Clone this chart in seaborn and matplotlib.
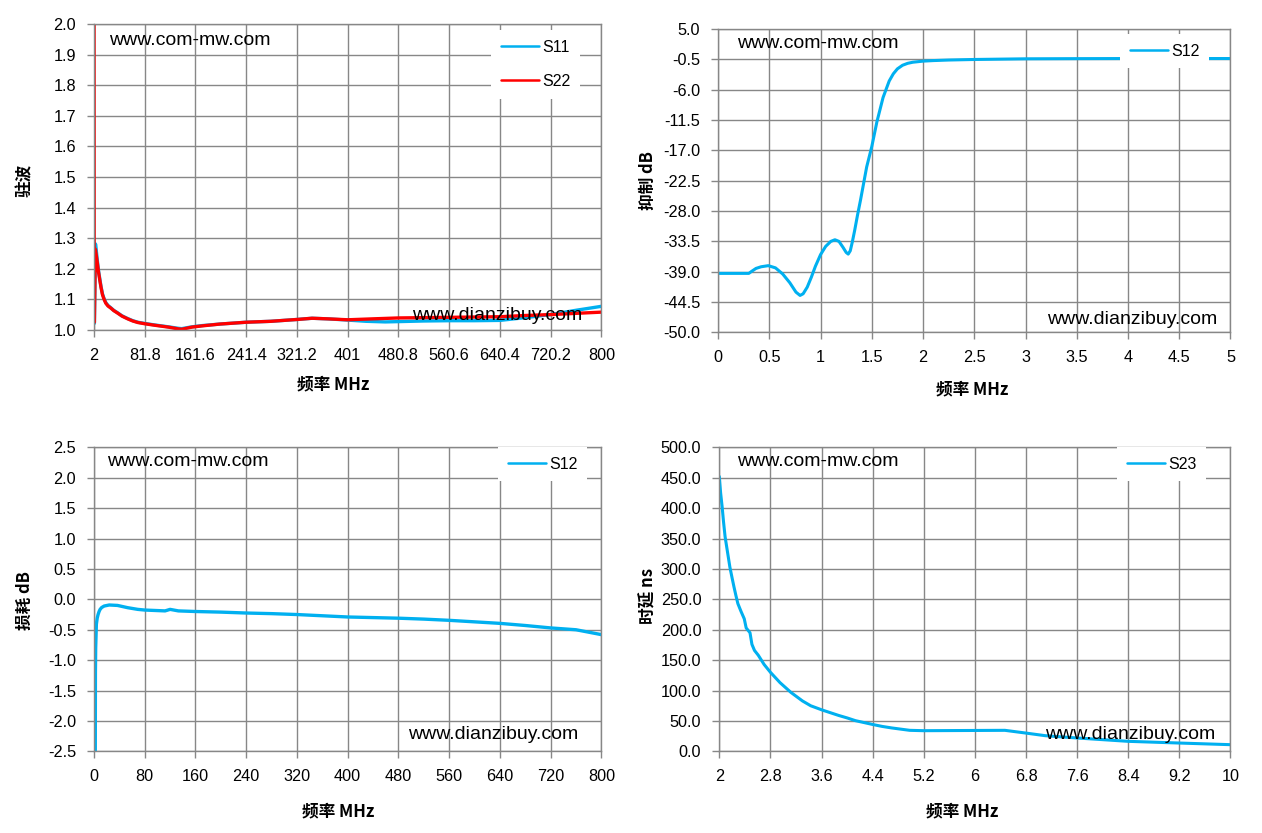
import matplotlib
matplotlib.use('Agg')
import matplotlib.pyplot as plt
import seaborn as sns

# ---- VSWR (top left) ----
s11_freq = [2, 2.6, 4.3, 5.8, 7.3, 9, 11, 13, 15.3, 18, 20.6, 24, 28.6, 33, 39, 46, 55, 63, 71,
            81.8, 97.8, 119, 135, 140, 156, 172, 200, 241.4, 280, 321.2, 345, 370, 401, 430,
            460, 480.8, 520, 560.6, 600, 640.4, 680, 720.2, 760, 800]
s11_vswr = [1.02, 1.022, 1.281, 1.255, 1.225, 1.195, 1.168, 1.142, 1.118, 1.101, 1.089, 1.080,
            1.072, 1.064, 1.056, 1.046, 1.037, 1.030, 1.025, 1.021, 1.016, 1.010, 1.005, 1.004,
            1.010, 1.014, 1.019, 1.025, 1.028, 1.034, 1.038, 1.036, 1.032, 1.028, 1.026, 1.027,
            1.029, 1.030, 1.030, 1.031, 1.040, 1.050, 1.064, 1.077]
s22_freq = [2, 2.3, 2.6, 4.1, 5.7, 7.3, 9, 11, 13, 15.3, 18, 20.6, 24, 28.6, 33, 39, 46, 55, 63,
            71, 81.8, 97.8, 119, 135, 140, 156, 172, 200, 241.4, 280, 321.2, 345, 370, 401, 440,
            480.8, 520, 560.6, 600, 640.4, 680, 720.2, 760, 800]
s22_vswr = [2.3, 1.03, 1.025, 1.264, 1.242, 1.218, 1.190, 1.164, 1.139, 1.115, 1.099, 1.087,
            1.078, 1.071, 1.063, 1.055, 1.045, 1.036, 1.029, 1.024, 1.020, 1.015, 1.009, 1.003,
            1.002, 1.009, 1.013, 1.019, 1.025, 1.028, 1.034, 1.038, 1.036, 1.033, 1.036, 1.039,
            1.040, 1.041, 1.042, 1.043, 1.047, 1.050, 1.054, 1.058]
vswr_xticks = ['2', '81.8', '161.6', '241.4', '321.2', '401', '480.8', '560.6', '640.4', '720.2', '800']
vswr_yticks = ['1.0', '1.1', '1.2', '1.3', '1.4', '1.5', '1.6', '1.7', '1.8', '1.9', '2.0']

# ---- rejection (top right) ----
rej_freq = [0, 0.3, 0.33, 0.37, 0.42, 0.49, 0.56, 0.63, 0.7, 0.76, 0.80, 0.83, 0.87, 0.91, 0.95,
            1.0, 1.05, 1.1, 1.14, 1.18, 1.22, 1.25, 1.27, 1.29, 1.31, 1.333, 1.36, 1.39, 1.42,
            1.45, 1.5, 1.55, 1.61, 1.67, 1.71, 1.75, 1.8, 1.85, 1.9, 2.0, 2.1, 2.25, 2.5, 3.0,
            3.5, 4.0, 4.5, 5.0]
rej_db = [-39.3, -39.3, -38.9, -38.4, -38.1, -37.9, -38.3, -39.4, -41.0, -42.7, -43.3, -43.0,
          -41.8, -40.0, -38.0, -35.9, -34.4, -33.5, -33.2, -33.5, -34.6, -35.5, -35.8, -35.2,
          -33.6, -31.5, -28.8, -26.0, -23.0, -20.0, -16.3, -11.8, -7.4, -4.4, -3.1, -2.2, -1.55,
          -1.2, -1.0, -0.8, -0.7, -0.6, -0.5, -0.38, -0.35, -0.33, -0.33, -0.33]
rej_xticks = ['0', '0.5', '1', '1.5', '2', '2.5', '3', '3.5', '4', '4.5', '5']
rej_yticks = ['-50.0', '-44.5', '-39.0', '-33.5', '-28.0', '-22.5', '-17.0', '-11.5', '-6.0', '-0.5', '5.0']

# ---- insertion loss (bottom left) ----
loss_freq = [2, 2.2, 2.6, 3.7, 5, 6.4, 8, 9.6, 12, 16, 24, 37, 53, 69, 80, 112, 120, 133, 160,
             200, 240, 280, 320, 360, 400, 440, 480, 520, 560, 600, 640, 680, 720, 760, 780, 800]
loss_db = [-2.5, -1.2, -0.8, -0.41, -0.31, -0.25, -0.2, -0.165, -0.135, -0.11, -0.093, -0.10,
           -0.137, -0.165, -0.176, -0.19, -0.165, -0.19, -0.2, -0.21, -0.225, -0.235, -0.25,
           -0.27, -0.29, -0.3, -0.31, -0.325, -0.345, -0.37, -0.395, -0.43, -0.47, -0.5, -0.54,
           -0.58]
loss_xticks = ['0', '80', '160', '240', '320', '400', '480', '560', '640', '720', '800']
loss_yticks = ['-2.5', '-2.0', '-1.5', '-1.0', '-0.5', '0.0', '0.5', '1.0', '1.5', '2.0', '2.5']

# ---- group delay (bottom right) ----
delay_freq = [2.0, 2.02, 2.044, 2.065, 2.09, 2.12, 2.165, 2.2, 2.23, 2.26, 2.29, 2.34, 2.39, 2.42,
              2.48, 2.51, 2.55, 2.61, 2.7, 2.8, 2.95, 3.12, 3.3, 3.43, 3.61, 3.87, 4.0, 4.13,
              4.41, 4.55, 4.7, 4.98, 5.2, 6.47, 6.79, 7.1, 7.6, 8.4, 9.2, 10.0]
delay_ns = [452, 425, 402, 378, 353, 333, 303, 285, 270, 256, 243, 230, 218, 203, 195, 176, 166,
            158, 143, 130, 113, 97, 83, 75, 68, 59, 55, 50.5, 44, 41, 38.5, 34.6, 34, 34.6, 30.2,
            25.8, 22, 16.5, 13.7, 11]
delay_xticks = ['2', '2.8', '3.6', '4.4', '5.2', '6', '6.8', '7.6', '8.4', '9.2', '10']
delay_yticks = ['0.0', '50.0', '100.0', '150.0', '200.0', '250.0', '300.0', '350.0', '400.0', '450.0', '500.0']

CYAN = '#00B0F0'
RED = '#FF0000'
GRID = '#878787'

sns.set_style('white')
plt.rcParams['font.family'] = ['Liberation Sans', 'DejaVu Sans']
plt.rcParams['text.color'] = 'black'
plt.rcParams['axes.labelcolor'] = 'black'
CJK = ['Noto Sans CJK SC', 'DejaVu Sans']


def style_axes(ax, xlabels, ylabels, xlab, ylab, xlab_pos, ylab_pos):
    xt = [float(v) for v in xlabels]
    yt = [float(v) for v in ylabels]
    ax.set_xlim(xt[0], xt[-1])
    ax.set_ylim(yt[0], yt[-1])
    ax.set_xticks(xt)
    ax.set_xticklabels(xlabels)
    ax.set_yticks(yt)
    ax.set_yticklabels(ylabels)
    ax.set_axisbelow(True)
    ax.grid(True, color=GRID, lw=1)
    for s in ax.spines.values():
        s.set_color(GRID)
        s.set_linewidth(1)
    ax.tick_params(axis='both', direction='out', length=5, width=1, color=GRID,
                   labelcolor='black', labelsize=11.7, pad=8, bottom=True, left=True)
    ax.set_xlabel(xlab, fontfamily=CJK, fontweight='bold', fontsize=12, color='black')
    ax.set_ylabel(ylab, fontfamily=CJK, fontweight='bold', fontsize=12, color='black')
    ax.xaxis.set_label_coords(*xlab_pos)
    ax.yaxis.set_label_coords(*ylab_pos)
    ax.xaxis.label.set_va('center')
    ax.yaxis.label.set_va('center')


def add_marks(ax, top, bottom):
    ax.text(top[0], top[1], 'www.com-mw.com', transform=ax.transAxes, fontsize=14,
            ha='left', va='center', zorder=6)
    ax.text(bottom[0], bottom[1], 'www.dianzibuy.com', transform=ax.transAxes, fontsize=14,
            ha='right', va='center', zorder=6)


def add_legend(ax, anchor):
    leg = ax.legend(loc='upper right', bbox_to_anchor=anchor, borderaxespad=0, frameon=True,
                    facecolor='white', edgecolor='none', framealpha=1, fancybox=False,
                    handlelength=2.4, handletextpad=0.2, labelspacing=1.2, borderpad=0.6,
                    fontsize=11.5)
    for line in leg.get_lines():
        line.set_linewidth(1.8)


fig = plt.figure(figsize=(12.62, 8.33), dpi=100)
ax1 = fig.add_axes([0.0745, 0.604, 0.402, 0.367])
ax2 = fig.add_axes([0.569, 0.601, 0.406, 0.364])
ax3 = fig.add_axes([0.0745, 0.098, 0.402, 0.365])
ax4 = fig.add_axes([0.570, 0.098, 0.405, 0.365])

# VSWR
sns.lineplot(x=s11_freq, y=s11_vswr, ax=ax1, color=CYAN, lw=2.4, estimator=None, sort=False, label='S11')
sns.lineplot(x=s22_freq, y=s22_vswr, ax=ax1, color=RED, lw=2.4, estimator=None, sort=False, label='S22')
style_axes(ax1, vswr_xticks, vswr_yticks, '频率 MHz', '驻波', (0.471, -0.18), (-0.136, 0.49))
add_legend(ax1, (0.958, 0.98))
add_marks(ax1, (0.030, 0.948), (0.962, 0.046))

# rejection
sns.lineplot(x=rej_freq, y=rej_db, ax=ax2, color=CYAN, lw=2.2, estimator=None, sort=False, label='S12')
style_axes(ax2, rej_xticks, rej_yticks, '频率 MHz', '抑制 dB', (0.496, -0.188), (-0.137, 0.50))
add_legend(ax2, (0.959, 0.983))
add_marks(ax2, (0.037, 0.954), (0.975, 0.043))

# insertion loss
sns.lineplot(x=loss_freq, y=loss_db, ax=ax3, color=CYAN, lw=2.4, estimator=None, sort=False, label='S12')
style_axes(ax3, loss_xticks, loss_yticks, '频率 MHz', '损耗 dB', (0.481, -0.197), (-0.136, 0.497))
add_legend(ax3, (0.972, 1.0))
add_marks(ax3, (0.026, 0.954), (0.955, 0.056))

# group delay
sns.lineplot(x=delay_freq, y=delay_ns, ax=ax4, color=CYAN, lw=2.2, estimator=None, sort=False, label='S23')
style_axes(ax4, delay_xticks, delay_yticks, '频率 MHz', '时延 ns', (0.476, -0.197), (-0.139, 0.51))
add_legend(ax4, (0.953, 1.0))
add_marks(ax4, (0.035, 0.954), (0.971, 0.056))

fig.savefig('out.png', dpi=100)
